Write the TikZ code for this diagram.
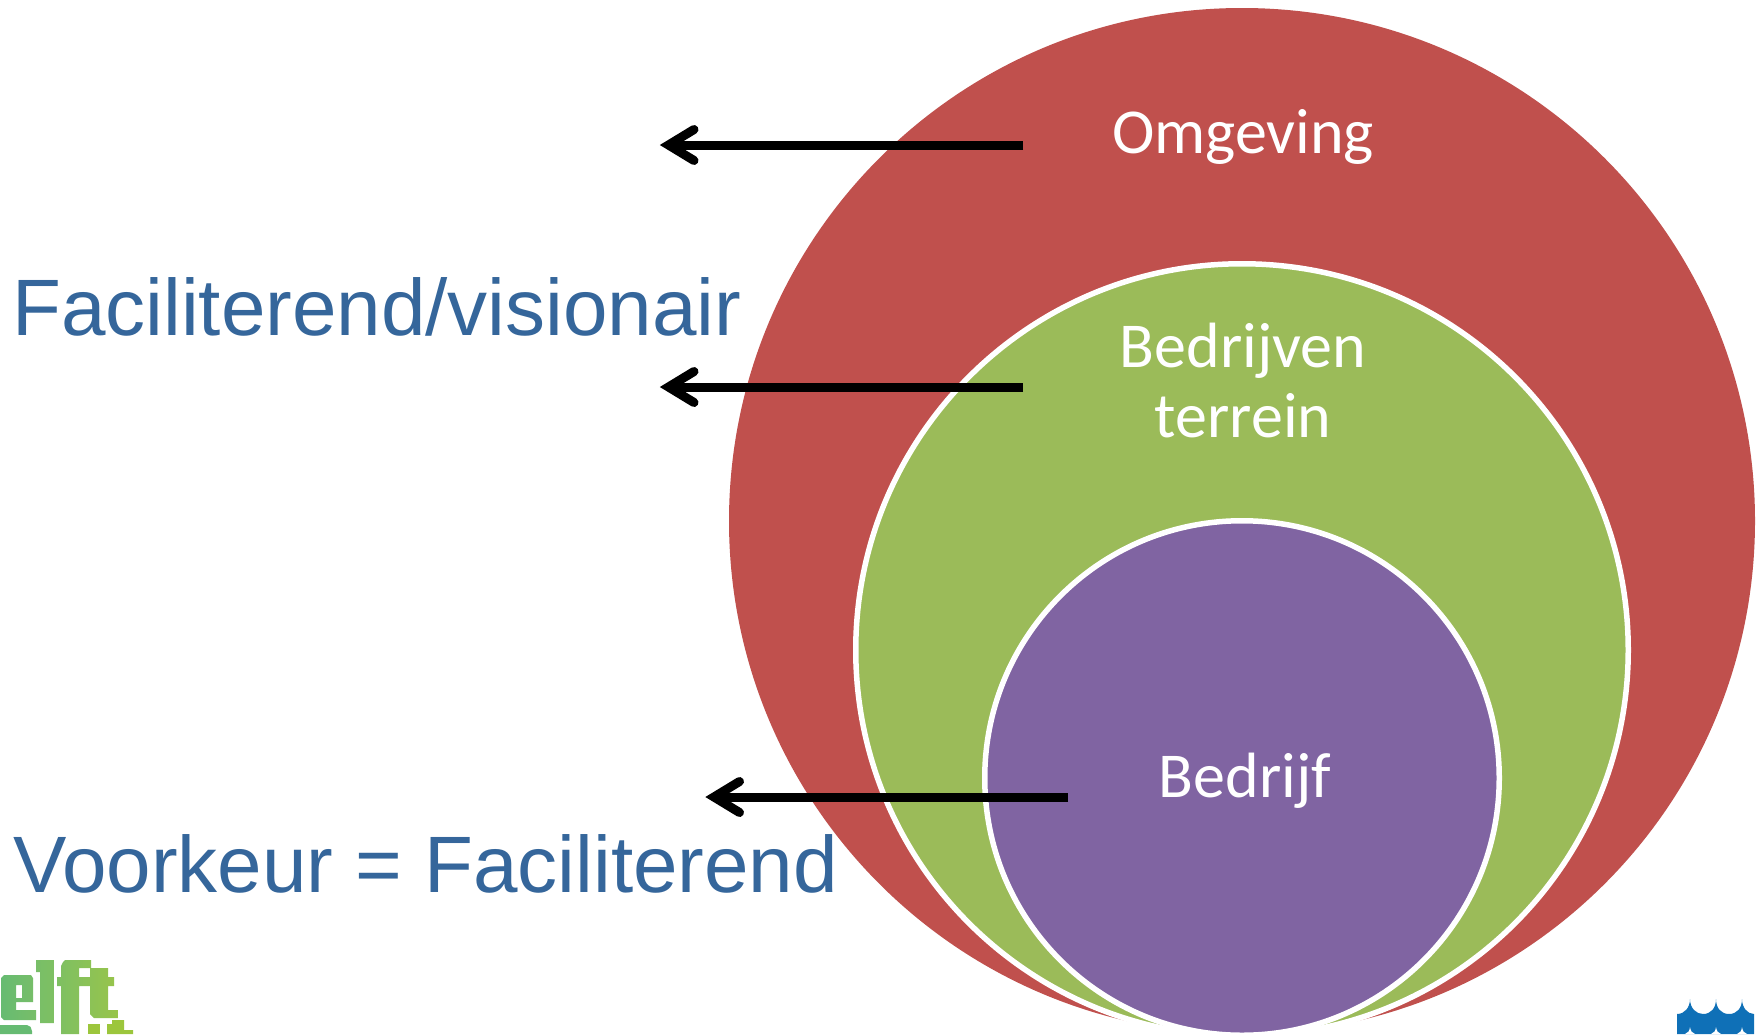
\documentclass[tikz,border=0pt]{standalone}
\usepackage{fontspec}
\usetikzlibrary{calc}
\setmainfont{Liberation Sans}
\newfontfamily\calib{Carlito}
\definecolor{cred}{HTML}{C0504D}
\definecolor{cgreen}{HTML}{9BBB59}
\definecolor{cpurple}{HTML}{8064A2}
\definecolor{ctext}{HTML}{35669B}
\definecolor{cblue}{HTML}{0F70B7}
\definecolor{gra}{HTML}{66BB72}
\definecolor{grb}{HTML}{78BE68}
\definecolor{grc}{HTML}{7EC062}
\definecolor{grd}{HTML}{8CC256}
\definecolor{gre}{HTML}{98C44A}
\definecolor{grf}{HTML}{9CC63C}
\tikzset{
  disc/.style={circle,inner sep=0pt,outer sep=0pt},
  rim/.style={disc,draw=white,line width=5.5pt},
  lbl/.style={anchor=base,inner sep=0pt,text=white,font=\calib\fontsize{64}{64}\selectfont},
  side/.style={anchor=base west,inner sep=0pt,text=ctext,font=\fontsize{80}{80}\selectfont},
  shaft/.style={line width=9pt,black},
  barb/.style={line width=9pt,black,line cap=round,line join=miter,miter limit=10},
}
\begin{document}
\begin{tikzpicture}[x=1pt,y=-1pt]
\useasboundingbox (0,0) rectangle (1762,1034);
\clip (0,0) rectangle (1762,1034);
\fill[white] (0,0) rectangle (1762,1034);
% circles
\node[disc,fill=cred,minimum size=1026pt] (outer) at (1242,521) {};
\node[rim,fill=cgreen,minimum size=772.5pt] (middle) at (1242,650) {};
\node[rim,fill=cpurple,minimum size=514.5pt] (inner) at (1242,778) {};
% labels
\node[lbl] (omg) at (1243,153) {Omgeving};
\node[lbl] (bed) at (1243,367) {Bedrijven};
\node[lbl] (ter) at (1243,437) {terrein};
\node[lbl] (bdf) at (1245,797) {Bedrijf};
\node[side] (fac) at (12,335.7) {Faciliterend/visionair};
\node[side] (voo) at (13,892) {Voorkeur = Faciliterend};
% arrows
\foreach \n/\tx/\vx/\yy in {a/1023/668.5/145, b/1023/668.5/387, c/1068/714/797}{
  \coordinate (\n tail) at (\tx,\yy);
  \coordinate (\n vert) at (\vx,\yy);
  \coordinate (\n up) at ($(\n vert)+(25.5,-15.5)$);
  \coordinate (\n dn) at ($(\n vert)+(25.5,15.5)$);
  \draw[shaft] (\n tail) -- (\n vert);
  \draw[barb] (\n up) -- (\n vert) -- (\n dn);
}
% left logo
\shade[even odd rule,left color=gra,right color=grb]
  (1,978) -- (4,975) -- (31,975) -- (33,978) -- (33,1002) -- (16,1002) -- (16,1010) -- (36,1010) -- (36,1020) -- (4,1020) -- (1,1017) -- cycle
  (16,985) rectangle (22,998);
\shade[left color=grb,right color=grc]
  (36,960) -- (54,960) -- (54,1023) -- (40,1023) -- (40,972) -- (36,972) -- cycle;
\shade[left color=grc,right color=grd]
  (63,962) -- (65,960) -- (91,960) -- (91,968) -- (79,968) -- (79,977) -- (91,977) -- (91,986) -- (79,986) -- (79,1034) -- (61,1034) -- (61,986) -- (57,986) -- (57,977) -- (61,977) -- (61,966) -- cycle;
\shade[left color=grd,right color=gre]
  (90,968) -- (108,968) -- (108,977) -- (114,977) -- (114,986) -- (108,986) -- (108,1010) -- (118,1010) -- (118,1018) -- (94,1018) -- (90,1014) -- cycle;
\fill[gra] (0,1025) -- (27,1025) .. controls (30,1025) and (32,1028) .. (32,1031) -- (32,1034) -- (0,1034) -- cycle;
\fill[grf] (88,1024) -- (100,1024) -- (100,1034) -- (88,1034) -- cycle;
\fill[grf] (107,1024) -- (112,1024) -- (112,1020) -- (124,1020) -- (124,1030) -- (133,1030) -- (133,1034) -- (107,1034) -- cycle;
% right logo
\fill[cblue] (1677,1034) -- (1677,1014)
  .. controls (1685,1014) and (1690,1007) .. (1690,999)
  .. controls (1690,1008) and (1696,1014) .. (1703,1014)
  .. controls (1711,1014) and (1716,1008) .. (1716,999)
  .. controls (1716,1008) and (1721,1014) .. (1729,1014)
  .. controls (1737,1014) and (1742,1008) .. (1742,999)
  .. controls (1742,1007) and (1747,1014) .. (1754,1014)
  -- (1754,1034) -- cycle;
\foreach \px in {1690,1716,1742}{
  \fill[white] (\px,1027) .. controls (\px+.5,1031) and (\px+2,1033) .. (\px+5,1034) -- (\px-5,1034) .. controls (\px-2,1033) and (\px-.5,1031) .. (\px,1027) -- cycle;
}
\end{tikzpicture}
\end{document}
